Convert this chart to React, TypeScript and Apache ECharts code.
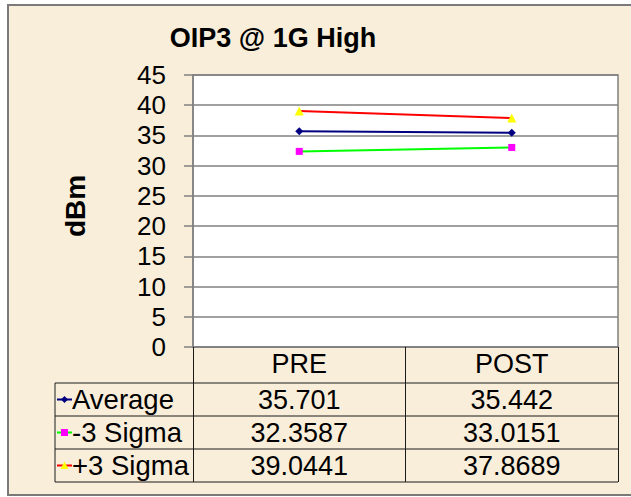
import React, { useEffect, useRef } from "react";
import * as echarts from "echarts";

const title = "OIP3 @ 1G High";
const yAxisName = "dBm";
const categories = ["PRE", "POST"];
const seriesNames = ["Average", "-3 Sigma", "+3 Sigma"];
const averageValues = [35.701, 35.442];
const minus3Values = [32.3587, 33.0151];
const plus3Values = [39.0441, 37.8689];
const averageLabels = ["35.701", "35.442"];
const minus3Labels = ["32.3587", "33.0151"];
const plus3Labels = ["39.0441", "37.8689"];
const yMin = 0;
const yMax = 45;
const yInterval = 5;

const W = 631;
const H = 497;
const gridLeft = 193;
const gridTop = 75;
const gridRight = 618;
const gridBottom = 347;
const rowH = 33;
const tableTop = 383;
const tableLeft = 55;
const FONT = "Liberation Sans, Arial, sans-serif";
const PARCH = "#F9EEDA";

const lineColors = ["#000080", "#00FF00", "#FF0000"];
const markerColors = ["#000080", "#FF00FF", "#FFFF00"];
const symbols = ["diamond", "rect", "triangle"];
const symbolSizes = [8, 7, 9];

export default function App() {
  const ref = useRef<HTMLDivElement>(null);
  useEffect(() => {
    if (!ref.current) return;
    const chart = echarts.init(ref.current, undefined, { renderer: "svg" });
    const values = [averageValues, minus3Values, plus3Values];
    const labels = [averageLabels, minus3Labels, plus3Labels];
    const colW = (gridRight - gridLeft) / categories.length;

    const graphics: any[] = [];
    graphics.push({
      type: "rect",
      z: -10,
      silent: true,
      shape: { x: 8, y: 5, width: 650, height: 490 },
      style: { fill: PARCH, stroke: "#7a7a7a", lineWidth: 2 },
    });
    const tableBottom = tableTop + rowH * seriesNames.length;
    for (let r = 0; r <= seriesNames.length; r++) {
      const y = tableTop + r * rowH;
      graphics.push({
        type: "line",
        shape: { x1: tableLeft, y1: y, x2: gridRight, y2: y },
        style: { stroke: "#1a1a1a", lineWidth: 1 },
      });
    }
    graphics.push({
      type: "line",
      shape: { x1: tableLeft, y1: tableTop, x2: tableLeft, y2: tableBottom },
      style: { stroke: "#1a1a1a", lineWidth: 1 },
    });
    seriesNames.forEach((name, r) => {
      const cy = tableTop + r * rowH + rowH / 2;
      graphics.push({
        type: "line",
        shape: { x1: 57, y1: cy, x2: 72, y2: cy },
        style: { stroke: lineColors[r], lineWidth: 2 },
      });
      if (r === 0) {
        graphics.push({
          type: "polygon",
          shape: { points: [[64.5, cy - 3.5], [68, cy], [64.5, cy + 3.5], [61, cy]] },
          style: { fill: markerColors[r] },
        });
      } else if (r === 1) {
        graphics.push({
          type: "rect",
          shape: { x: 61, y: cy - 3.5, width: 7, height: 7 },
          style: { fill: markerColors[r] },
        });
      } else {
        graphics.push({
          type: "polygon",
          shape: { points: [[64.5, cy - 4], [68.5, cy + 3.5], [60.5, cy + 3.5]] },
          style: { fill: markerColors[r] },
        });
      }
      graphics.push({
        type: "text",
        x: 72,
        y: cy,
        style: {
          text: name,
          font: `27.5px ${FONT}`,
          fill: "#000",
          textAlign: "left",
          textVerticalAlign: "middle",
        },
      });
      labels[r].forEach((lab, c) => {
        graphics.push({
          type: "text",
          x: gridLeft + (c + 0.5) * colW,
          y: cy,
          style: {
            text: lab,
            font: `27px ${FONT}`,
            fill: "#000",
            textAlign: "center",
            textVerticalAlign: "middle",
          },
        });
      });
    });

    chart.setOption({
      animation: false,
      backgroundColor: "#ffffff",
      title: {
        text: title,
        left: 268,
        top: 19,
        textAlign: "center",
        textStyle: { fontFamily: FONT, fontSize: 27, fontWeight: "bold", color: "#000" },
      },
      grid: {
        left: gridLeft,
        top: gridTop,
        right: W - gridRight,
        bottom: H - gridBottom,
        show: true,
        backgroundColor: "#ffffff",
        borderColor: "#808080",
        borderWidth: 1.5,
        containLabel: false,
      },
      xAxis: {
        type: "category",
        data: categories,
        boundaryGap: true,
        axisLine: { show: true, lineStyle: { color: "#808080", width: 1.5 } },
        axisTick: { show: true, length: tableTop + rowH * seriesNames.length - gridBottom, lineStyle: { color: "#1a1a1a", width: 1 } },
        axisLabel: { fontFamily: FONT, fontSize: 27, color: "#000", margin: 3 },
        splitLine: { show: false },
      },
      yAxis: {
        type: "value",
        min: yMin,
        max: yMax,
        interval: yInterval,
        name: yAxisName,
        nameLocation: "middle",
        nameRotate: 90,
        nameGap: 104,
        nameTextStyle: { fontFamily: FONT, fontSize: 28, fontWeight: "bold", color: "#000", padding: [0, 0, 0, 10] },
        axisLine: { show: true, lineStyle: { color: "#808080", width: 1.5 } },
        axisTick: { show: true, length: 9, lineStyle: { color: "#808080", width: 1.5 } },
        axisLabel: { fontFamily: FONT, fontSize: 26, color: "#000", margin: 27 },
        splitLine: { show: true, lineStyle: { color: "#808080", width: 1.5 } },
      },
      series: seriesNames.map((name, i) => ({
        name,
        type: "line",
        data: values[i],
        symbol: symbols[i],
        symbolSize: symbolSizes[i],
        showSymbol: true,
        lineStyle: { color: lineColors[i], width: 2 },
        itemStyle: { color: markerColors[i] },
        z: 5,
      })),
      graphic: graphics,
    });
    return () => chart.dispose();
  }, []);
  return (
    <div style={{ position: "fixed", left: 0, top: 0, width: W, height: H, background: "#fff" }}>
      <div ref={ref} style={{ width: W, height: H }} />
    </div>
  );
}
